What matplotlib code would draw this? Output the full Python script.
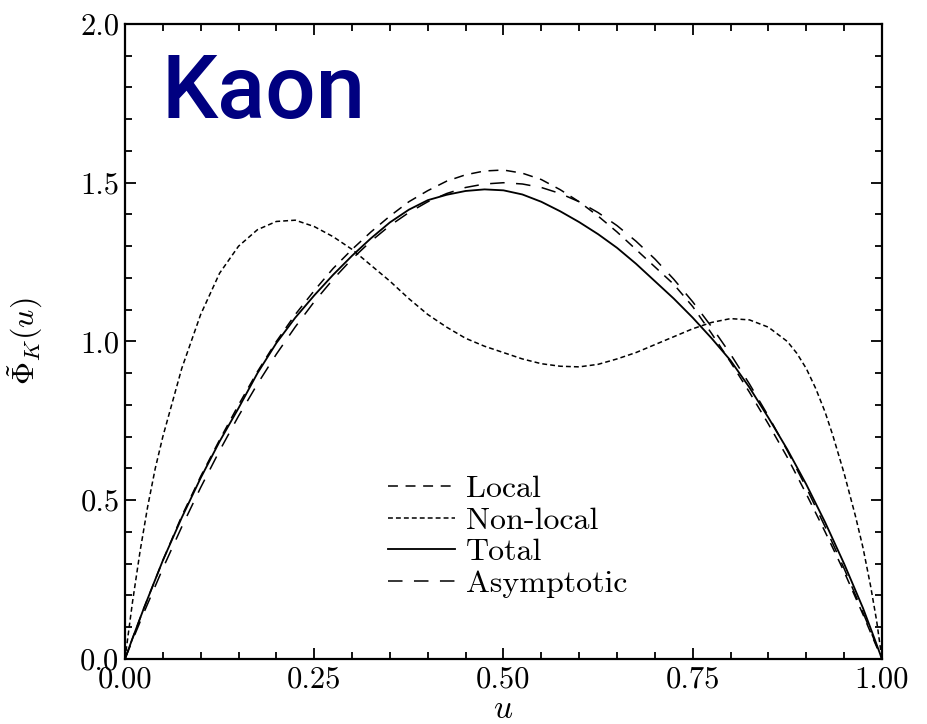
import matplotlib
matplotlib.use("Agg")
import matplotlib.pyplot as plt
from matplotlib.ticker import MultipleLocator, FormatStrFormatter

plt.rcParams["mathtext.fontset"] = "cm"
plt.rcParams["axes.formatter.use_mathtext"] = True

# Momentum fraction grid shared by local, total and asymptotic amplitudes
u = [0.0, 0.01, 0.025, 0.05, 0.075, 0.1, 0.125, 0.15, 0.175, 0.2, 0.225, 0.25,
     0.275, 0.3, 0.325, 0.35, 0.375, 0.4, 0.425, 0.45, 0.475, 0.5, 0.525, 0.55,
     0.575, 0.6, 0.625, 0.65, 0.675, 0.7, 0.725, 0.75, 0.775, 0.8, 0.825, 0.85,
     0.875, 0.9, 0.925, 0.95, 0.975, 0.99, 1.0]

phi_local = [0.0, 0.065, 0.16, 0.31, 0.45, 0.575, 0.69, 0.80, 0.905, 1.0, 1.085, 1.16,
             1.23, 1.29, 1.345, 1.395, 1.44, 1.475, 1.505, 1.525, 1.537, 1.54, 1.53, 1.51,
             1.478, 1.44, 1.395, 1.345, 1.29, 1.235, 1.18, 1.11, 1.025, 0.935, 0.84, 0.74,
             0.635, 0.52, 0.40, 0.275, 0.14, 0.055, 0.0]

phi_total = [0.0, 0.065, 0.16, 0.31, 0.445, 0.57, 0.685, 0.79, 0.90, 0.995, 1.075, 1.145,
             1.21, 1.27, 1.325, 1.375, 1.415, 1.445, 1.462, 1.474, 1.479, 1.476, 1.463, 1.44,
             1.41, 1.376, 1.338, 1.295, 1.245, 1.19, 1.135, 1.075, 1.01, 0.94, 0.855, 0.76,
             0.66, 0.55, 0.43, 0.30, 0.16, 0.065, 0.0]

phi_asym = [0.0, 0.059, 0.146, 0.285, 0.416, 0.54, 0.656, 0.765, 0.866, 0.96, 1.046, 1.125,
            1.196, 1.26, 1.316, 1.365, 1.406, 1.44, 1.466, 1.485, 1.496, 1.50, 1.496, 1.485,
            1.466, 1.44, 1.406, 1.365, 1.316, 1.26, 1.196, 1.125, 1.046, 0.96, 0.866, 0.765,
            0.656, 0.54, 0.416, 0.285, 0.146, 0.059, 0.0]

# Non-local contribution, read on its own grid (steeper near the end points)
u_nl = [0.0, 0.005, 0.01, 0.02, 0.03, 0.04, 0.05, 0.075, 0.1, 0.125, 0.15, 0.175, 0.2,
        0.225, 0.25, 0.275, 0.3, 0.325, 0.35, 0.375, 0.4, 0.425, 0.45, 0.475, 0.5,
        0.525, 0.55, 0.575, 0.6, 0.625, 0.65, 0.675, 0.7, 0.725, 0.75, 0.775, 0.8,
        0.825, 0.85, 0.875, 0.8875, 0.9, 0.9125, 0.925, 0.935, 0.95, 0.965, 0.975,
        0.985, 0.993, 1.0]
phi_nonlocal = [0.0, 0.09, 0.18, 0.34, 0.48, 0.60, 0.70, 0.915, 1.085, 1.215, 1.30, 1.352,
                1.378, 1.382, 1.362, 1.33, 1.29, 1.24, 1.19, 1.135, 1.085, 1.045, 1.01, 0.985,
                0.965, 0.945, 0.93, 0.922, 0.92, 0.928, 0.945, 0.965, 0.99, 1.015, 1.04, 1.06,
                1.072, 1.068, 1.045, 1.0, 0.963, 0.915, 0.852, 0.777, 0.705, 0.585, 0.45,
                0.35, 0.23, 0.12, 0.0]

fig = plt.figure(figsize=(9.27, 7.24), dpi=100)
ax = fig.add_axes([0.1348, 0.0898, 0.8166, 0.8771])

lw = 1.1
ax.plot(u, phi_local, color="black", lw=lw, dashes=(6.5, 5.0), label="Local")
ax.plot(u_nl, phi_nonlocal, color="black", lw=lw, dashes=(3.2, 2.0), label="Non-local")
ax.plot(u, phi_total, color="black", lw=lw * 1.2, label="Total")
ax.plot(u, phi_asym, color="black", lw=lw, dashes=(9.5, 7.5), label="Asymptotic")

ax.set_xlim(0, 1)
ax.set_ylim(0, 2)

ax.xaxis.set_major_locator(MultipleLocator(0.25))
ax.xaxis.set_minor_locator(MultipleLocator(0.05))
ax.yaxis.set_major_locator(MultipleLocator(0.5))
ax.yaxis.set_minor_locator(MultipleLocator(0.1))
ax.xaxis.set_major_formatter(FormatStrFormatter("%.2f"))
ax.yaxis.set_major_formatter(FormatStrFormatter("%.1f"))

ax.tick_params(which="both", direction="in", top=True, right=True, width=1.3,
               labelsize=22, labelfontfamily="cmr10")
ax.tick_params(which="major", length=8)
ax.tick_params(which="minor", length=5)
ax.tick_params(axis="x", which="major", pad=5)
ax.tick_params(axis="y", which="major", pad=4)
for s in ax.spines.values():
    s.set_linewidth(1.6)

ax.set_xlabel(r"$u$", fontsize=24, labelpad=-1)
ax.set_ylabel(r"$\tilde{\Phi}_K(u)$", fontsize=23)
ax.yaxis.set_label_coords(-0.105, 0.5)

ax.text(0.048, 1.704, "Kaon", color="#000080", fontsize=64, fontweight="medium",
        family="Roboto", va="baseline", ha="left")

leg = ax.legend(loc="upper left", bbox_to_anchor=(0.347, 0.29), frameon=False,
                prop={"family": "cmr10", "size": 23}, handlelength=2.1,
                handletextpad=0.35, labelspacing=0.1, borderpad=0, borderaxespad=0)

fig.savefig("out.png", dpi=100)
